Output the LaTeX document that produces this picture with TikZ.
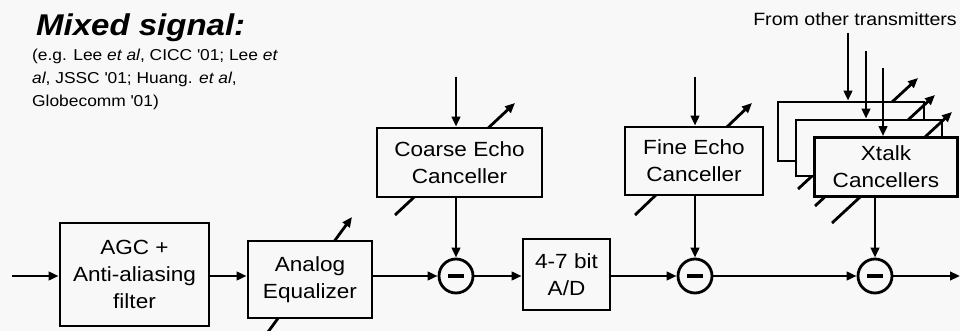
\documentclass[tikz,border=0pt]{standalone}
\usepackage{fontspec}
\setmainfont[FakeStretch=1.1]{Liberation Sans}
\usetikzlibrary{arrows.meta}
\definecolor{bg}{RGB}{248,248,248}
\newcommand{\boxfont}{\fontsize{20.5}{27}\selectfont}
\newcommand{\reffont}{\fontsize{15.8}{23}\selectfont}
\newcommand{\qt}{\textquotesingle}
\begin{document}
\begin{tikzpicture}[x=1pt,y=-1pt,
  lw/.style={line width=2.8pt},
  arr/.style={lw,-{Triangle[length=10pt,width=8.5pt]}},
  blk/.style={draw,lw,fill=bg,align=center,inner sep=0pt,font=\boxfont},
  sumnode/.style={draw,lw,circle,fill=bg,minimum size=34pt,inner sep=0pt}]
\fill[bg] (0,0) rectangle (960,331);
\useasboundingbox (0,0) rectangle (960,331);

% texts
\node[anchor=base west,inner sep=0pt,font=\fontsize{30}{36}\selectfont\bfseries\itshape] (title) at (36,36) {Mixed signal:};
\node[anchor=base west,inner sep=0pt,font=\reffont] (ref1) at (32,61) {(e.g. Lee \textit{et al}, CICC \qt01; Lee \textit{et}};
\node[anchor=base west,inner sep=0pt,font=\reffont] (ref2) at (32,84) {\textit{al}, JSSC \qt01; Huang. \textit{et al},};
\node[anchor=base west,inner sep=0pt,font=\reffont] (ref3) at (32,107) {Globecomm \qt01)};
\node[anchor=base,inner sep=0pt,font=\fontsize{17.8}{20}\selectfont] (from) at (855,26) {From other transmitters};

% adjustment arrows behind boxes
\coordinate (ea) at (268,332); \coordinate (eb) at (352,217);
\coordinate (ca) at (395,215); \coordinate (cb) at (515,103);
\coordinate (fa) at (635,215); \coordinate (fb) at (752,103);
\draw[arr] (ea) -- (eb);
\draw[arr] (ca) -- (cb);
\draw[arr] (fa) -- (fb);

% main blocks
\node[blk,minimum width=149pt,minimum height=103pt] (agc) at (134.5,274.5) {AGC +\\Anti-aliasing\\filter};
\node[blk,minimum width=124pt,minimum height=77pt] (eq) at (310,279.5) {Analog\\Equalizer};
\node[blk,minimum width=87pt,minimum height=71pt] (ad) at (566.5,274.5) {4-7 bit\\A/D};
\node[blk,minimum width=165pt,minimum height=69pt] (coarse) at (459.5,162.5) {Coarse Echo\\Canceller};
\node[blk,minimum width=138pt,minimum height=68pt] (fine) at (694,161) {Fine Echo\\Canceller};

% Xtalk stack
\coordinate (xa3) at (798,189); \coordinate (xb3) at (918,78);
\coordinate (xa2) at (815,206); \coordinate (xb2) at (935,95);
\coordinate (xa1) at (832,223); \coordinate (xb1) at (952,112);
\draw[arr] (xa3) -- (xb3);
\node[blk,minimum width=146pt,minimum height=59pt] (xb) at (851,131.5) {};
\draw[arr] (xa2) -- (xb2);
\node[blk,minimum width=146pt,minimum height=56pt] (xm) at (869,148) {};
\draw[arr] (xa1) -- (xb1);
\node[blk,minimum width=143pt,minimum height=59pt] (xf) at (886,167) {Xtalk\\Cancellers};

% summing nodes
\node[sumnode] (c1) at (456,276) {\rule[-2pt]{16pt}{4pt}};
\node[sumnode] (c2) at (695,276) {\rule[-2pt]{16pt}{4pt}};
\node[sumnode] (c3) at (875,276) {\rule[-2pt]{16pt}{4pt}};

% main path
\coordinate (in) at (12,276);
\coordinate (out) at (960,276);
\draw[arr] (in) -- (in -| agc.west);
\draw[arr] (agc.east |- in) -- (eq.west |- in);
\draw[arr] (eq.east |- in) -- (c1);
\draw[arr] (c1) -- (ad.west |- in);
\draw[arr] (ad.east |- in) -- (c2);
\draw[arr] (c2) -- (c3);
\draw[arr] (c3) -- (out);

% vertical inputs
\coordinate (ci) at (456,77);
\coordinate (fi) at (695,77);
\draw[arr] (ci) -- (ci |- coarse.north);
\draw[arr] (fi) -- (fi |- fine.north);
\draw[arr] (coarse.south -| c1) -- (c1);
\draw[arr] (fine.south -| c2) -- (c2);
\draw[arr] (xf.south -| c3) -- (c3);

\coordinate (t1) at (848,33);
\coordinate (t2) at (866,51);
\coordinate (t3) at (883,68);
\draw[arr] (t1) -- (t1 |- xb.north);
\draw[arr] (t2) -- (t2 |- xm.north);
\draw[arr] (t3) -- (t3 |- xf.north);
\end{tikzpicture}
\end{document}
